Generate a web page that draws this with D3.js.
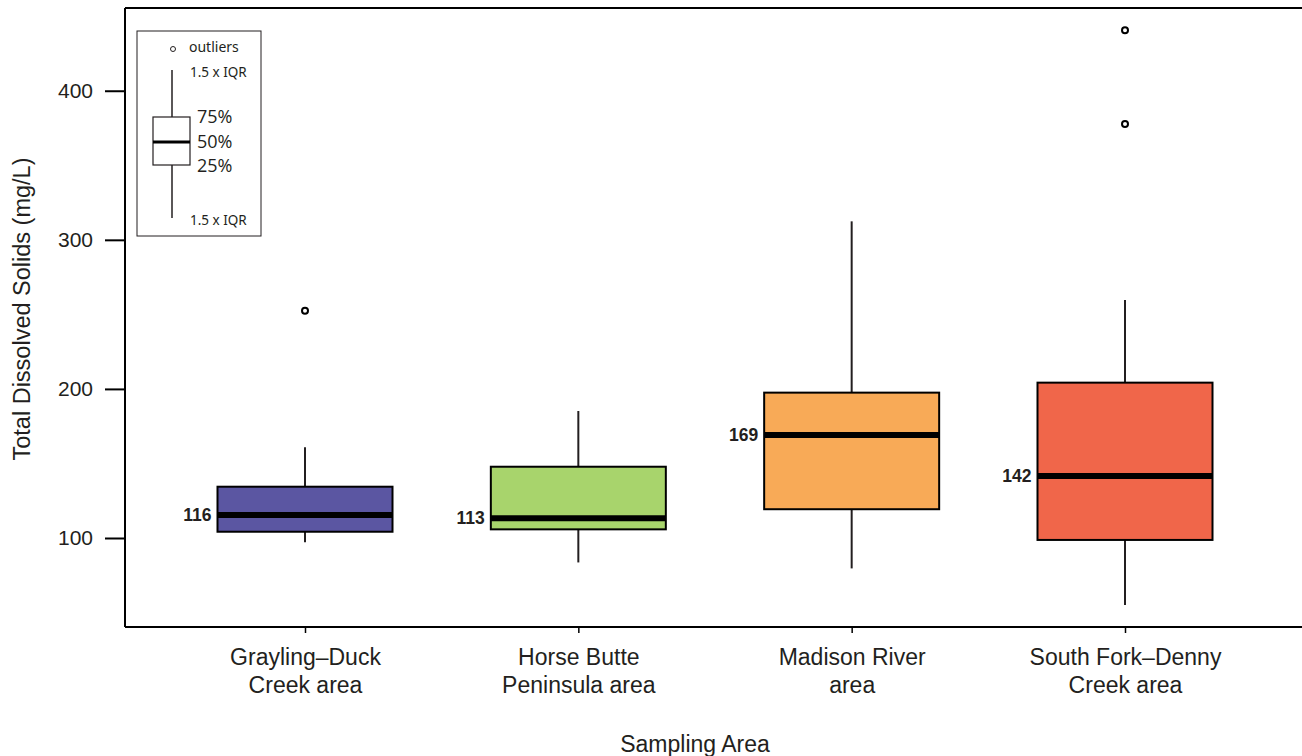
<!DOCTYPE html>
<html>
<head>
<meta charset="utf-8">
<script src="https://cdn.jsdelivr.net/npm/d3@7"></script>
<style>
  body { margin: 0; background: #fff; }
  svg { display: block; }
  text { fill: #231f20; }
</style>
</head>
<body>
<svg id="chart" width="1302" height="756"></svg>
<script>
// 數據
const areas = ["Grayling–Duck|Creek area", "Horse Butte|Peninsula area", "Madison River|area", "South Fork–Denny|Creek area"];
const whiskerLow = [97.1, 83.6, 79.6, 55.1];
const q1 = [104.2, 105.8, 119.3, 98.7];
const median = [115.4, 113.2, 169.1, 141.6];
const q3 = [134.4, 147.8, 197.5, 204.2];
const whiskerHigh = [160.8, 185.2, 312.4, 259.6];
const medianLabels = ["116", "113", "169", "142"];
const outliers = [[252.5], [], [], [440.5, 377.7]];
const colors = ["#5b56a2", "#a8d46c", "#f8aa57", "#f0664a"];
const yTicks = [100, 200, 300, 400];

const svg = d3.select("#chart");
const plotLeft = 125, plotTop = 8, plotBottom = 627, plotRight = 1302;
const af = "'Liberation Sans', Arial, sans-serif";

const y = d3.scaleLinear().domain([40.3, 455.5]).range([plotBottom, plotTop]);
const x = d3.scalePoint().domain(areas).range([305, 1125]);
const boxW = 175;

// 框線
svg.append("line").attr("x1", plotLeft).attr("x2", plotRight).attr("y1", plotTop).attr("y2", plotTop)
  .attr("stroke", "#000").attr("stroke-width", 2);

// Y 軸
const yAxis = svg.append("g").attr("transform", `translate(${plotLeft},0)`)
  .call(d3.axisLeft(y).tickValues(yTicks).tickSize(20).tickPadding(12).tickSizeOuter(0));
yAxis.select(".domain").attr("d", `M0,${plotTop}V${plotBottom}`).attr("stroke", "#000").attr("stroke-width", 2);
yAxis.selectAll(".tick line").attr("stroke", "#000").attr("stroke-width", 2);
yAxis.selectAll(".tick text").attr("font-family", af)
  .attr("font-size", 21).attr("fill", "#231f20");

// X 軸
const xAxis = svg.append("g").attr("transform", `translate(0,${plotBottom})`)
  .call(d3.axisBottom(x).tickSize(6).tickSizeOuter(0).tickFormat(""));
xAxis.select(".domain").attr("d", `M${plotLeft},0H${plotRight}`).attr("stroke", "#000").attr("stroke-width", 2);
xAxis.selectAll(".tick line").attr("stroke", "#000").attr("stroke-width", 1.5);
xAxis.selectAll(".tick").each(function (d) {
  const t = d3.select(this).append("text")
    .attr("text-anchor", "middle")
    .attr("font-family", af)
    .attr("font-size", 23).attr("fill", "#231f20");
  d.split("|").forEach((s, i) => {
    t.append("tspan").attr("x", 0).attr("y", 38 + i * 28).text(s);
  });
});

// 軸標題
svg.append("text").attr("x", 695).attr("y", 752).attr("text-anchor", "middle")
  .attr("font-family", af).attr("font-size", 23)
  .text("Sampling Area");
svg.append("text").attr("transform", "translate(30,309) rotate(-90)").attr("text-anchor", "middle")
  .attr("font-family", af).attr("font-size", 23.5)
  .text("Total Dissolved Solids (mg/L)");

// 盒鬚圖
areas.forEach((a, i) => {
  const cx = x(a);
  const g = svg.append("g");
  g.append("line").attr("x1", cx).attr("x2", cx).attr("y1", y(whiskerHigh[i])).attr("y2", y(q3[i]))
    .attr("stroke", "#231f20").attr("stroke-width", 2);
  g.append("line").attr("x1", cx).attr("x2", cx).attr("y1", y(q1[i])).attr("y2", y(whiskerLow[i]))
    .attr("stroke", "#231f20").attr("stroke-width", 2);
  g.append("rect").attr("x", cx - boxW / 2).attr("y", y(q3[i]))
    .attr("width", boxW).attr("height", y(q1[i]) - y(q3[i]))
    .attr("fill", colors[i]).attr("stroke", "#000").attr("stroke-width", 2);
  g.append("line").attr("x1", cx - boxW / 2).attr("x2", cx + boxW / 2)
    .attr("y1", y(median[i])).attr("y2", y(median[i]))
    .attr("stroke", "#000").attr("stroke-width", 6);
  g.append("text").attr("x", cx - boxW / 2 - 6).attr("y", y(median[i])).attr("dy", "0.35em")
    .attr("text-anchor", "end").attr("font-family", af)
    .attr("font-size", 17.5).attr("font-weight", "bold").text(medianLabels[i]);
  outliers[i].forEach(v => {
    g.append("circle").attr("cx", cx).attr("cy", y(v)).attr("r", 3)
      .attr("fill", "none").attr("stroke", "#000").attr("stroke-width", 2);
  });
});

// 圖例
const lg = svg.append("g");
const lf = "'Noto Sans', 'Open Sans', sans-serif";
lg.append("rect").attr("x", 137).attr("y", 31).attr("width", 124).attr("height", 205)
  .attr("fill", "#fff").attr("stroke", "#231f20").attr("stroke-width", 1);
lg.append("circle").attr("cx", 173).attr("cy", 49).attr("r", 2.5)
  .attr("fill", "none").attr("stroke", "#231f20").attr("stroke-width", 1);
lg.append("text").attr("x", 189).attr("y", 52).attr("font-family", lf).attr("font-size", 14).text("outliers");
lg.append("line").attr("x1", 172).attr("x2", 172).attr("y1", 70).attr("y2", 218)
  .attr("stroke", "#231f20").attr("stroke-width", 1.5);
lg.append("rect").attr("x", 153).attr("y", 117).attr("width", 37).attr("height", 48)
  .attr("fill", "#fff").attr("stroke", "#231f20").attr("stroke-width", 1.2);
lg.append("line").attr("x1", 153).attr("x2", 190).attr("y1", 142).attr("y2", 142)
  .attr("stroke", "#000").attr("stroke-width", 3);
lg.append("text").attr("x", 190).attr("y", 77).attr("font-family", lf).attr("font-size", 13.5).text("1.5 x IQR");
lg.append("text").attr("x", 190).attr("y", 225).attr("font-family", lf).attr("font-size", 13.5).text("1.5 x IQR");
[["75%", 117], ["50%", 142], ["25%", 166]].forEach(([t, yy]) => {
  lg.append("text").attr("x", 197).attr("y", yy).attr("dy", "0.35em")
    .attr("font-family", "'Open Sans', sans-serif").attr("font-size", 18).text(t);
});
</script>
</body>
</html>
